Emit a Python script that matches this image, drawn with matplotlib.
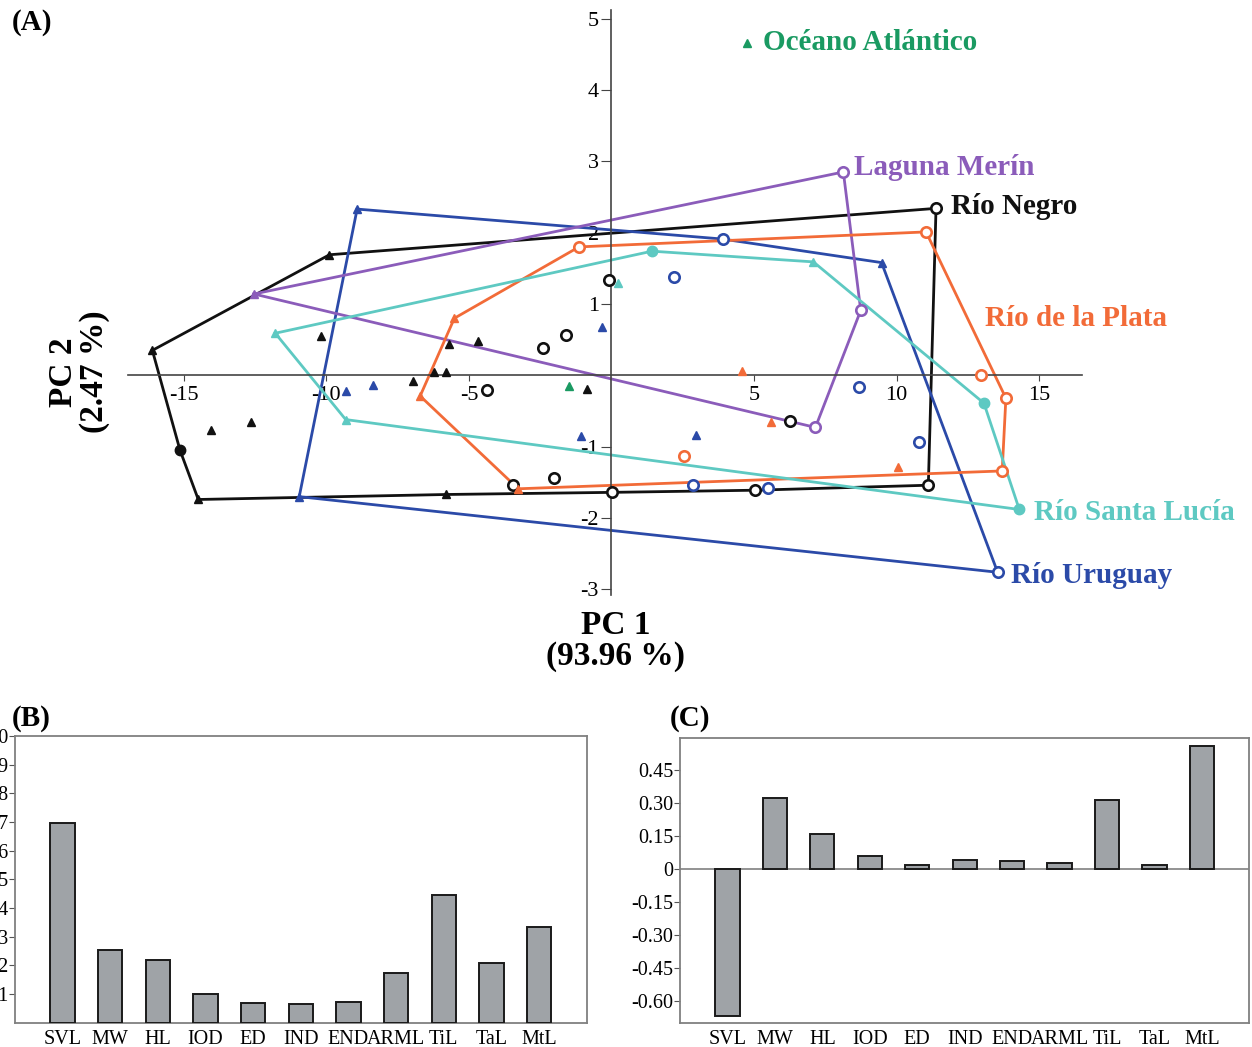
import numpy as np
import matplotlib.pyplot as plt

plt.rcParams['font.family'] = ['Liberation Serif', 'DejaVu Serif']
plt.rcParams['axes.unicode_minus'] = False

# ---- panel A: PC scores, hull vertices listed in drawing order
negro_hull_x = [-16.10, -9.89, 11.38, 11.11, 5.04, 0.03, -5.80, -14.49, -15.13]
negro_hull_y = [0.35, 1.69, 2.34, -1.54, -1.61, -1.64, -1.67, -1.74, -1.05]
negro_circ_x = [11.38, 11.11, 5.04, 0.03, -4.35, -2.39, -1.61, -0.08, -2.03, -3.44, 6.26]
negro_circ_y = [2.34, -1.54, -1.61, -1.64, -0.21, 0.38, 0.56, 1.34, -1.44, -1.54, -0.64]
negro_tri_x = [-16.10, -9.89, -5.80, -14.49, -14.04, -12.63, -10.19, -6.97, -6.22, -5.81, -5.69, -4.69, -0.85]
negro_tri_y = [0.35, 1.69, -1.67, -1.74, -0.76, -0.66, 0.55, -0.08, 0.04, 0.04, 0.44, 0.48, -0.19]
negro_dot_x = [-15.13]
negro_dot_y = [-1.05]

uru_hull_x = [-8.92, 3.90, 9.47, 13.54, -10.95]
uru_hull_y = [2.33, 1.91, 1.58, -2.76, -1.70]
uru_circ_x = [3.90, 13.54, 2.19, 2.87, 5.50, 8.67, 10.77]
uru_circ_y = [1.91, -2.76, 1.38, -1.54, -1.58, -0.16, -0.93]
uru_tri_x = [-8.92, 9.47, -10.95, -9.31, -8.35, -0.32, -1.08, 2.96]
uru_tri_y = [2.33, 1.58, -1.70, -0.22, -0.13, 0.68, -0.85, -0.84]

merin_hull_x = [-12.54, 8.13, 8.74, 7.15]
merin_hull_y = [1.14, 2.85, 0.91, -0.73]
merin_circ_x = [8.13, 8.74, 7.15]
merin_circ_y = [2.85, 0.91, -0.73]
merin_tri_x = [-12.54]
merin_tri_y = [1.14]

plata_hull_x = [-1.14, 11.03, 13.83, 13.70, -3.27, -6.71, -5.51]
plata_hull_y = [1.80, 2.01, -0.32, -1.34, -1.59, -0.29, 0.80]
plata_circ_x = [-1.14, 11.03, 13.83, 13.70, 12.95, 2.53]
plata_circ_y = [1.80, 2.01, -0.32, -1.34, 0.01, -1.13]
plata_tri_x = [-3.27, -6.71, -5.51, 4.59, 5.58, 10.06]
plata_tri_y = [-1.59, -0.29, 0.80, 0.06, -0.66, -1.28]

lucia_hull_x = [-11.79, 1.42, 7.08, 13.06, 14.30, -9.32]
lucia_hull_y = [0.59, 1.74, 1.59, -0.39, -1.88, -0.62]
lucia_dot_x = [1.42, 13.06, 14.30]
lucia_dot_y = [1.74, -0.39, -1.88]
lucia_tri_x = [-11.79, 7.08, -9.32, 0.24]
lucia_tri_y = [0.59, 1.59, -0.62, 1.30]

atl_tri_x = [-1.48]
atl_tri_y = [-0.15]

# ---- panels B and C: variable loadings
traits = ['SVL', 'MW', 'HL', 'IOD', 'ED', 'IND', 'END', 'ARML', 'TiL', 'TaL', 'MtL']
load_b = [0.695, 0.254, 0.219, 0.100, 0.068, 0.065, 0.071, 0.172, 0.445, 0.209, 0.333]
load_c = [-0.667, 0.323, 0.160, 0.060, 0.021, 0.041, 0.036, 0.029, 0.314, 0.020, 0.562]
b_ticks = [0.1, 0.2, 0.3, 0.4, 0.5, 0.6, 0.7, 0.8, 0.9, 1.0]
c_ticks = [-0.60, -0.45, -0.30, -0.15, 0, 0.15, 0.30, 0.45]
c_ticklabels = ['-0.60', '-0.45', '-0.30', '-0.15', '0', '0.15', '0.30', '0.45']

BLACK = '#111111'
BLUE = '#2b4aa8'
PURPLE = '#8b5cba'
ORANGE = '#f26b38'
CYAN = '#5ec9c2'
GREEN = '#1a9a62'

W, H = 1252, 1047
fig = plt.figure(figsize=(W / 100, H / 100), dpi=100)


def px_axes(left, top, right, bottom):
    return fig.add_axes([left / W, 1 - bottom / H, (right - left) / W, (bottom - top) / H])


ax = px_axes(121, 4.3, 1113.4, 610.8)
ax.set_xlim(-17.2, 17.6)
ax.set_ylim(-3.3, 5.2)
for s in ['top', 'right']:
    ax.spines[s].set_visible(False)
ax.spines['left'].set_position('zero')
ax.spines['bottom'].set_position('zero')
ax.spines['left'].set_bounds(-3.08, 5.12)
ax.spines['bottom'].set_bounds(-16.95, 16.5)
for s in ['left', 'bottom']:
    ax.spines[s].set_color('#444444')
    ax.spines[s].set_linewidth(1.2)
ax.set_xticks([-15, -10, -5, 5, 10, 15])
ax.set_xticklabels(['-15', '-10', '-5', '5', '10', '15'])
ax.set_yticks([-3, -2, -1, 1, 2, 3, 4, 5])
ax.set_yticklabels(['-3', '-2', '-1', '1', '2', '3', '4', '5'])
ax.tick_params(axis='x', direction='out', length=4, pad=4, labelsize=16, color='#444444')
ax.tick_params(axis='y', direction='out', length=7, pad=2, labelsize=16, color='#444444')
ax.patch.set_visible(False)


def draw_group(hx, hy, color, cx=(), cy=(), tx=(), ty=(), fx=(), fy=()):
    ax.plot(list(hx) + [hx[0]], list(hy) + [hy[0]], color=color, lw=2, zorder=2)
    ax.plot(cx, cy, 'o', mfc='white', mec=color, ms=7.5, mew=1.9, ls='none', zorder=3)
    ax.plot(tx, ty, '^', color=color, ms=5.5, ls='none', zorder=3)
    ax.plot(fx, fy, 'o', color=color, ms=7.5, ls='none', zorder=3)


draw_group(negro_hull_x, negro_hull_y, BLACK, negro_circ_x, negro_circ_y,
           negro_tri_x, negro_tri_y, negro_dot_x, negro_dot_y)
draw_group(uru_hull_x, uru_hull_y, BLUE, uru_circ_x, uru_circ_y, uru_tri_x, uru_tri_y)
draw_group(merin_hull_x, merin_hull_y, PURPLE, merin_circ_x, merin_circ_y, merin_tri_x, merin_tri_y)
draw_group(plata_hull_x, plata_hull_y, ORANGE, plata_circ_x, plata_circ_y, plata_tri_x, plata_tri_y)
draw_group(lucia_hull_x, lucia_hull_y, CYAN, tx=lucia_tri_x, ty=lucia_tri_y,
           fx=lucia_dot_x, fy=lucia_dot_y)
ax.plot(atl_tri_x, atl_tri_y, '^', color=GREEN, ms=5.5, ls='none', zorder=3)

# group labels
lab = dict(fontsize=21, fontweight='bold', va='center', ha='left', clip_on=False)
ax.plot([4.75], [4.66], '^', color=GREEN, ms=5.5)
ax.text(5.3, 4.66, 'Océano Atlántico', color=GREEN, **lab)
ax.text(8.5, 2.91, 'Laguna Merín', color=PURPLE, **lab)
ax.text(11.9, 2.36, 'Río Negro', color=BLACK, **lab)
ax.text(13.1, 0.79, 'Río de la Plata', color=ORANGE, **lab)
ax.text(14.8, -1.92, 'Río Santa Lucía', color=CYAN, **lab)
ax.text(14.0, -2.80, 'Río Uruguay', color=BLUE, **lab)

fig.text(616 / W, 1 - 626 / H, 'PC 1', fontsize=24, fontweight='bold', ha='center', va='center')
fig.text(616 / W, 1 - 656 / H, '(93.96 %)', fontsize=24, fontweight='bold', ha='center', va='center')
fig.text(63 / W, 1 - 372 / H, 'PC 2', fontsize=24, fontweight='bold', ha='center', va='center', rotation=90)
fig.text(95 / W, 1 - 372 / H, '(2.47 %)', fontsize=24, fontweight='bold', ha='center', va='center', rotation=90)

fig.text(32 / W, 1 - 22 / H, '(A)', fontsize=21, fontweight='bold', ha='center', va='center')
fig.text(31 / W, 1 - 718 / H, '(B)', fontsize=21, fontweight='bold', ha='center', va='center')
fig.text(690 / W, 1 - 718 / H, '(C)', fontsize=21, fontweight='bold', ha='center', va='center')

# ---- bar panels
xpos = np.arange(len(traits))


def bar_panel(axb, values):
    axb.bar(xpos, values, width=0.51, color='#9fa3a7', edgecolor='#1a1a1a', linewidth=1.4, zorder=3)
    axb.set_xlim(-1, 11)
    axb.set_xticks(xpos)
    axb.set_xticklabels(traits)
    axb.tick_params(axis='x', length=0, pad=5, labelsize=14.5)
    axb.tick_params(axis='y', direction='out', length=4, pad=1, labelsize=14.5, color='#555555')
    for s in axb.spines.values():
        s.set_color('#808080')
        s.set_linewidth(1.3)


axB = px_axes(15, 736, 586.7, 1022.7)
bar_panel(axB, load_b)
axB.set_ylim(0, 1.0)
axB.set_yticks(b_ticks)
axB.set_yticklabels(['%.1f' % t for t in b_ticks])

axC = px_axes(680, 737.7, 1249.3, 1023.3)
bar_panel(axC, load_c)
axC.set_ylim(-0.70, 0.598)
axC.set_yticks(c_ticks)
axC.set_yticklabels(c_ticklabels)
axC.axhline(0, color='#808080', lw=1.2, zorder=2)

fig.savefig('out.png', dpi=100)
